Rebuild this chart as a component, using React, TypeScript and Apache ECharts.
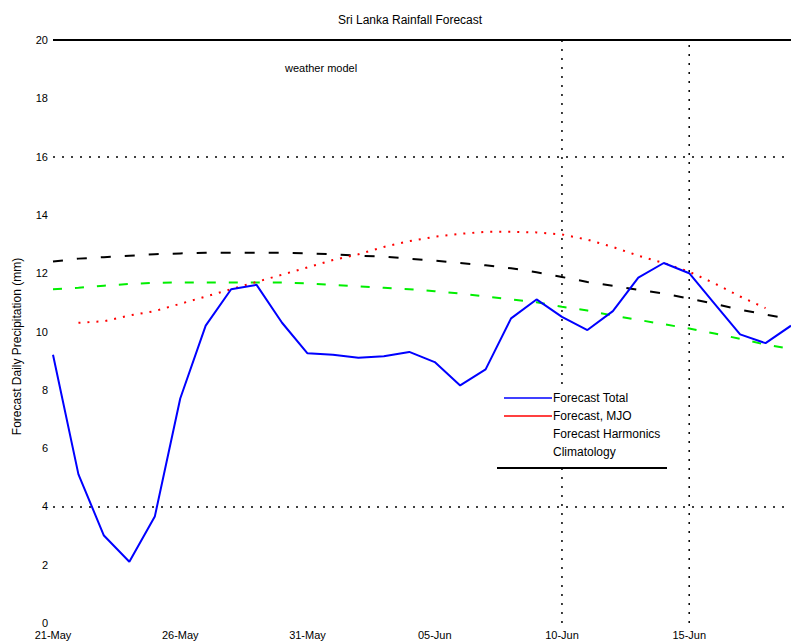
import React, { useEffect, useRef } from "react";
import * as echarts from "echarts";

const dates = [
  "21-May", "22-May", "23-May", "24-May", "25-May", "26-May", "27-May", "28-May", "29-May", "30-May",
  "31-May", "01-Jun", "02-Jun", "03-Jun", "04-Jun", "05-Jun", "06-Jun", "07-Jun", "08-Jun", "09-Jun",
  "10-Jun", "11-Jun", "12-Jun", "13-Jun", "14-Jun", "15-Jun", "16-Jun", "17-Jun", "18-Jun", "19-Jun",
];

const forecastTotal = [
  9.2, 5.1, 3.0, 2.1, 3.65, 7.7, 10.2, 11.45, 11.6, 10.3,
  9.25, 9.2, 9.1, 9.15, 9.3, 8.95, 8.15, 8.7, 10.45, 11.1,
  10.5, 10.05, 10.7, 11.85, 12.35, 12.0, 10.95, 9.9, 9.6, 10.2,
];

const forecastMJO = [
  null, 10.3, 10.35, 10.55, 10.7, 10.95, 11.2, 11.45, 11.7, 11.95,
  12.2, 12.45, 12.65, 12.9, 13.1, 13.25, 13.35, 13.42, 13.42, 13.4,
  13.33, 13.15, 12.9, 12.6, 12.35, 12.05, 11.65, 11.2, 10.8, null,
];

const forecastHarmonics = [
  11.45, 11.5, 11.57, 11.63, 11.67, 11.68, 11.68, 11.68, 11.68, 11.68,
  11.65, 11.6, 11.55, 11.5, 11.45, 11.38, 11.3, 11.2, 11.1, 11.0,
  10.85, 10.72, 10.55, 10.4, 10.25, 10.1, 9.93, 9.75, 9.55, 9.4,
];

const climatology = [
  12.4, 12.5, 12.55, 12.6, 12.65, 12.68, 12.7, 12.7, 12.7, 12.7,
  12.68, 12.65, 12.6, 12.57, 12.5, 12.43, 12.35, 12.27, 12.17, 12.03,
  11.87, 11.7, 11.57, 11.43, 11.3, 11.13, 10.95, 10.75, 10.58, 10.42,
];

const refLevels = [4, 16];
const yTop = 20;
// dotted vertical reference segments: [date, from, to]; 10-Jun is interrupted by the legend box
const refSegments: [string, number, number][] = [
  ["10-Jun", 0, 5.3],
  ["10-Jun", 8.2, 20],
  ["15-Jun", 0, 20],
];

const FONT = "Liberation Sans, Arial, sans-serif";

export default function App() {
  const ref = useRef<HTMLDivElement>(null);
  useEffect(() => {
    if (!ref.current) return;
    document.body.style.margin = "0";
    document.body.style.overflow = "hidden";
    const chart = echarts.init(ref.current, undefined, { renderer: "svg" });
    const dotted = { color: "#000", width: 1.5, type: [2, 7] };
    const segmentSeries = refSegments.map(([d, a, b], i) => ({
      name: "ref" + i,
      type: "line",
      data: [
        [d, a],
        [d, b],
      ],
      symbol: "none",
      silent: true,
      z: 1,
      lineStyle: dotted,
      color: "#000",
    }));
    chart.setOption({
      animation: false,
      backgroundColor: "#ffffff",
      title: {
        text: "Sri Lanka Rainfall Forecast",
        left: 333,
        top: 9,
        textStyle: { fontFamily: FONT, fontSize: 12, fontWeight: "normal", color: "#000" },
      },
      graphic: [
        {
          type: "text",
          left: 285,
          top: 62,
          style: { text: "weather model", font: `11px ${FONT}`, fill: "#000" },
        },
        {
          type: "line",
          z: 51,
          shape: { x1: 497, y1: 468, x2: 667, y2: 468 },
          style: { stroke: "#000", lineWidth: 2 },
        },
      ],
      legend: {
        z: 60,
        orient: "vertical",
        left: 497,
        top: 388,
        padding: [4, 10, 2, 6],
        itemWidth: 48,
        itemHeight: 10,
        itemGap: 6,
        itemStyle: { opacity: 0 },
        textStyle: { fontFamily: FONT, fontSize: 12, color: "#000", padding: [0, 0, 0, -4] },
        data: [
          { name: "Forecast Total", lineStyle: { width: 1.5 } },
          { name: "Forecast, MJO", lineStyle: { width: 1.5 } },
          { name: "Forecast Harmonics", lineStyle: { opacity: 0 } },
          { name: "Climatology", lineStyle: { opacity: 0 } },
        ],
      },
      grid: { left: 53, right: -4, top: 40, bottom: 21, containLabel: false },
      xAxis: {
        type: "category",
        data: dates,
        boundaryGap: false,
        axisLine: { show: false },
        axisTick: { show: false },
        splitLine: { show: false },
        axisLabel: {
          interval: 4,
          margin: 6,
          fontFamily: FONT,
          fontSize: 11,
          color: "#000",
        },
      },
      yAxis: {
        type: "value",
        min: 0,
        max: 20,
        interval: 2,
        name: "Forecast Daily Precipitation (mm)",
        nameLocation: "middle",
        nameGap: 30,
        nameRotate: 90,
        nameTextStyle: { fontFamily: FONT, fontSize: 12, color: "#000", padding: [0, 0, 0, -30] },
        axisLine: { show: false },
        axisTick: { show: false },
        splitLine: { show: false },
        axisLabel: { margin: 5, fontFamily: FONT, fontSize: 11, color: "#000" },
      },
      series: [
        {
          name: "reference lines",
          type: "line",
          data: [],
          z: 1,
          silent: true,
          markLine: {
            silent: true,
            symbol: "none",
            label: { show: false },
            data: [
              ...refLevels.map((v) => ({ yAxis: v, lineStyle: dotted })),
              {
                yAxis: yTop,
                lineStyle: { color: "#000", width: 2, type: "solid" },
              },
            ],
          },
        },
        ...segmentSeries,
        {
          name: "Forecast Total",
          type: "line",
          data: forecastTotal,
          symbol: "none",
          color: "#0000ff",
          lineStyle: { color: "#0000ff", width: 2 },
          z: 5,
        },
        {
          // legend swatch for the MJO forecast (solid, as in the original key)
          name: "Forecast, MJO",
          type: "line",
          data: [],
          symbol: "none",
          color: "#ff0000",
          lineStyle: { color: "#ff0000", width: 1.5, type: "solid" },
        },
        {
          name: "Forecast, MJO",
          type: "line",
          data: forecastMJO,
          symbol: "none",
          color: "#ff0000",
          lineStyle: { color: "#ff0000", width: 2, type: [2, 7] },
          z: 4,
        },
        {
          name: "Forecast Harmonics",
          type: "line",
          data: forecastHarmonics,
          symbol: "none",
          color: "#00ee00",
          lineStyle: { color: "#00ee00", width: 2, type: [9, 13] },
          z: 3,
        },
        {
          name: "Climatology",
          type: "line",
          data: climatology,
          symbol: "none",
          color: "#000000",
          lineStyle: { color: "#000000", width: 2, type: [10, 14] },
          z: 3,
        },
      ],
    });
    return () => chart.dispose();
  }, []);
  return (
    <div
      ref={ref}
      style={{ position: "absolute", left: 0, top: 0, width: 791, height: 644 }}
    />
  );
}
